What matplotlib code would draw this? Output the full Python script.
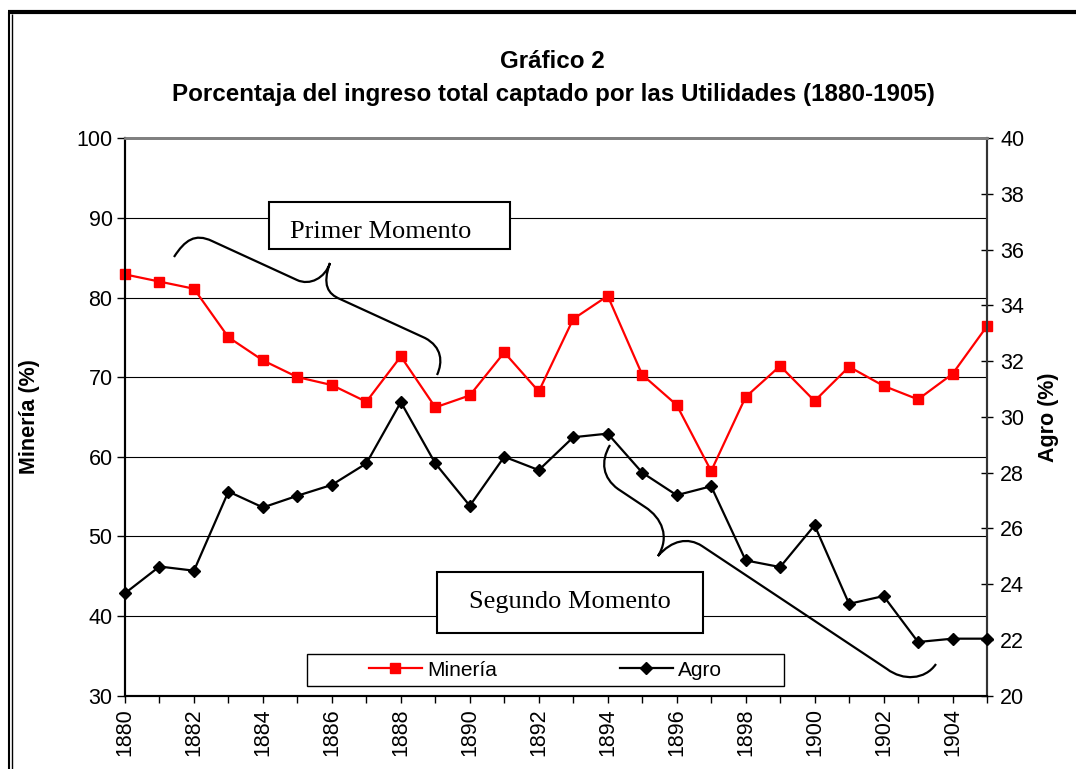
import matplotlib
matplotlib.use("Agg")
import matplotlib.pyplot as plt
from matplotlib.path import Path
from matplotlib.patches import PathPatch, Rectangle
from matplotlib.lines import Line2D

plt.rcParams["font.family"] = ["Liberation Sans", "DejaVu Sans"]

years = list(range(1880, 1906))
mineria = [82.9, 82.0, 81.1, 75.0, 72.1, 70.0, 69.0, 66.9, 72.6, 66.2, 67.7, 73.1, 68.2,
           77.3, 80.2, 70.3, 66.5, 58.2, 67.5, 71.4, 67.0, 71.3, 68.9, 67.2, 70.4, 76.4]
agro = [23.67, 24.63, 24.48, 27.32, 26.75, 27.17, 27.56, 28.33, 30.53, 28.33, 26.81, 28.57, 28.09,
        29.27, 29.40, 28.00, 27.19, 27.51, 24.85, 24.61, 26.11, 23.29, 23.57, 21.92, 22.04, 22.04]
left_ticks = list(range(30, 101, 10))
right_ticks = list(range(20, 41, 2))

W, H = 1076, 769
fx = lambda px: px / W
fy = lambda py: 1 - py / H

fig = plt.figure(figsize=(W / 100, H / 100), dpi=100)
ax = fig.add_axes([fx(125), fy(695.5), (987 - 125) / W, (695.5 - 138.3) / H])
ax2 = ax.twinx()

# ---- series ----
l1, = ax.plot(years, mineria, color="#ff0000", lw=1.6, marker="s", ms=7,
              mec="#ff0000", mfc="#ff0000", clip_on=False, zorder=3, label="Minería")
l2, = ax2.plot(years, agro, color="black", lw=1.6, marker="D", ms=6.3,
               mec="black", mfc="black", clip_on=False, zorder=3, label="Agro")

ax.set_xlim(1880, 1905)
ax.set_ylim(30, 100)
ax2.set_ylim(20, 40)
ax.set_yticks(left_ticks)
ax2.set_yticks(right_ticks)
ax.set_xticks(years)
ax.set_xticklabels([str(y) if y % 2 == 0 else "" for y in years], rotation=90)
ax.yaxis.grid(True, color="black", lw=0.8)
ax.set_axisbelow(True)

ax.tick_params(axis="x", direction="out", length=5, width=1, pad=4, labelsize=15.5)
ax.tick_params(axis="y", direction="out", length=6, width=1, pad=3, labelsize=15.5)
ax2.tick_params(axis="y", direction="inout", length=9, width=1, pad=5, labelsize=15.5)

for a in (ax, ax2):
    a.spines["left"].set_linewidth(1.5)
    a.spines["bottom"].set_linewidth(1.5)
    a.spines["right"].set_linewidth(1.5)
    a.spines["right"].set_color("#333333")
    a.spines["top"].set_color("#808080")
    a.spines["top"].set_linewidth(2)

ax.set_ylabel("Minería (%)", fontsize=15.5, fontweight="bold", labelpad=26)
ax2.set_ylabel("Agro (%)", fontsize=15.5, fontweight="bold", rotation=90, labelpad=10)

# ---- titles ----
fig.text(fx(552), fy(62), "Gráfico 2", ha="center", va="center", fontsize=17.4, fontweight="bold")
fig.text(fx(553), fy(95), "Porcentaja del ingreso total captado por las Utilidades (1880-1905)",
         ha="center", va="center", fontsize=17.4, fontweight="bold")

# ---- legend ----
fig.add_artist(Rectangle((fx(307), fy(686)), (784 - 307) / W, (686 - 654) / H,
                         transform=fig.transFigure, fc="white", ec="black", lw=1, zorder=5))
fig.legend([l1, l2], ["Minería", "Agro"], loc="center", bbox_to_anchor=(fx(545.5), fy(670)),
           bbox_transform=fig.transFigure, ncol=2, frameon=False, fontsize=15,
           handlelength=2.55, handletextpad=0.25, columnspacing=5.9).set_zorder(6)

# ---- annotation boxes ----
def box(x0, y0, x1, y1):
    fig.add_artist(Rectangle((fx(x0), fy(y1)), (x1 - x0) / W, (y1 - y0) / H,
                             transform=fig.transFigure, fc="white", ec="black", lw=1.5, zorder=5))

box(269, 202, 510, 249)
fig.text(fx(290), fy(238), "Primer Momento", ha="left", va="baseline",
         family="Liberation Serif", fontsize=19, zorder=6)
box(437, 572, 703, 633)
fig.text(fx(570), fy(608), "Segundo Momento", ha="center", va="baseline",
         family="Liberation Serif", fontsize=19, zorder=6)

# ---- braces ----
def brace(segs):
    verts, codes = [], []
    for kind, pts in segs:
        pts = [(fx(x), fy(y)) for x, y in pts]
        verts += pts
        if kind == "M":
            codes += [Path.MOVETO]
        elif kind == "L":
            codes += [Path.LINETO]
        else:
            codes += [Path.CURVE4] * 3
    fig.add_artist(PathPatch(Path(verts, codes), transform=fig.transFigure,
                             fc="none", ec="black", lw=1.6, zorder=6))

brace([("M", [(174, 257)]),
       ("C", [(185, 240), (195, 233), (212, 241)]),
       ("L", [(297, 280)]),
       ("C", [(310, 286), (325, 278), (330, 263)]),
       ("C", [(322, 285), (328, 294), (340, 299)]),
       ("L", [(425, 338)]),
       ("C", [(442, 347), (443, 362), (437, 375)])])

brace([("M", [(610, 445)]),
       ("C", [(600, 462), (603, 478), (618, 489)]),
       ("L", [(645, 507)]),
       ("C", [(662, 518), (670, 537), (658, 556)]),
       ("C", [(672, 540), (688, 537), (702, 546)]),
       ("L", [(887, 669)]),
       ("C", [(903, 681), (925, 680), (936, 664)])])

# ---- page border ----
kw = dict(transform=fig.transFigure, color="black", solid_capstyle="butt")
fig.add_artist(Line2D([fx(8), 1], [fy(12), fy(12)], lw=3, **kw))
fig.add_artist(Line2D([fx(9), fx(9)], [fy(12), 0], lw=1.5, **kw))
fig.add_artist(Line2D([fx(12), fx(12)], [fy(14), 0], lw=1, **kw))

fig.savefig("out.png", dpi=100)
